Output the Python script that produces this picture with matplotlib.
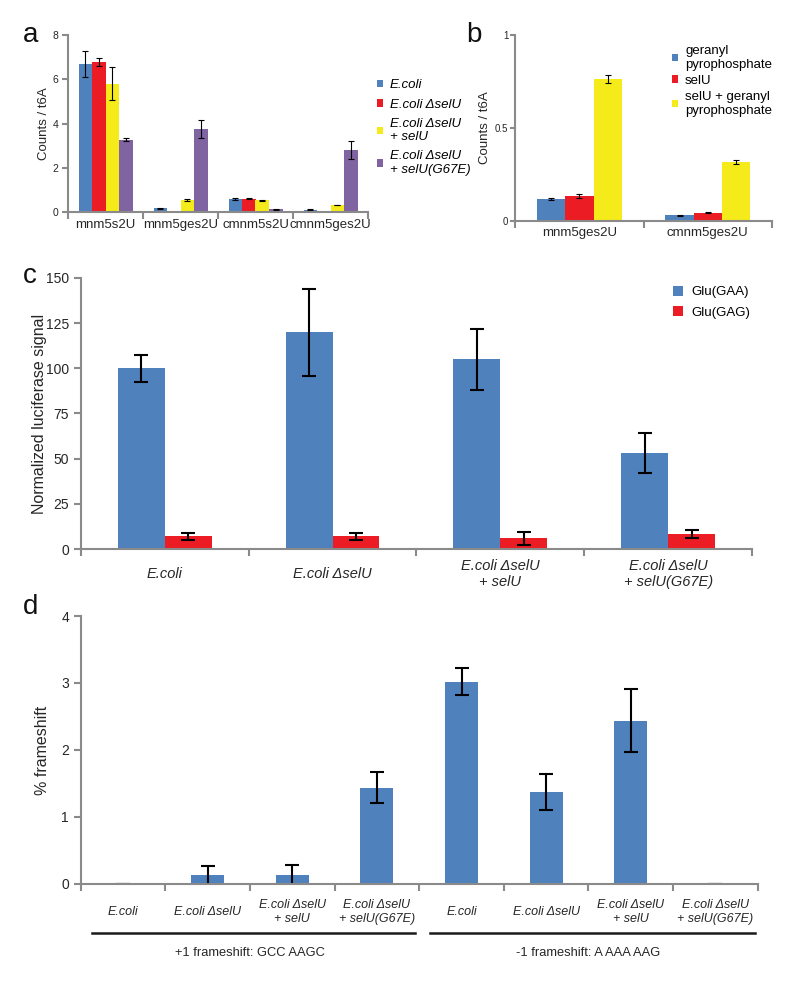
import numpy as np
import matplotlib.pyplot as plt
from matplotlib.ticker import FixedLocator

plt.rcParams['font.family'] = ['Liberation Sans', 'DejaVu Sans']

BLUE = '#4f81bd'
RED = '#ec1c24'
YELLOW = '#f5eb1a'
PURPLE = '#8064a2'
GRAY = '#8a8a8a'
TXT = '#262626'

# panel a : counts / t6A
a_cats = ['mnm5s2U', 'mnm5ges2U', 'cmnm5s2U', 'cmnm5ges2U']
a_labels = ['E.coli', 'E.coli \u0394selU', 'E.coli \u0394selU\n+ selU', 'E.coli \u0394selU\n+ selU(G67E)']
a_ecoli = [6.7, 0.17, 0.6, 0.1]
a_ecoli_err = [0.6, 0.02, 0.05, 0.02]
a_delta = [6.8, 0.0, 0.6, 0.0]
a_delta_err = [0.18, 0.0, 0.03, 0.0]
a_rescue = [5.8, 0.55, 0.53, 0.32]
a_rescue_err = [0.75, 0.05, 0.03, 0.02]
a_g67e = [3.28, 3.75, 0.13, 2.8]
a_g67e_err = [0.08, 0.42, 0.02, 0.4]

# panel b
b_cats = ['mnm5ges2U', 'cmnm5ges2U']
b_labels = ['geranyl\npyrophosphate', 'selU', 'selU + geranyl\npyrophosphate']
b_gpp = [0.118, 0.03]
b_gpp_err = [0.006, 0.003]
b_selu = [0.134, 0.045]
b_selu_err = [0.01, 0.004]
b_both = [0.763, 0.318]
b_both_err = [0.022, 0.012]

# panel c : luciferase
c_cats = ['E.coli', 'E.coli \u0394selU', 'E.coli \u0394selU\n+ selU', 'E.coli \u0394selU\n+ selU(G67E)']
c_gaa = [100, 120, 105, 53]
c_gaa_err = [7.5, 24, 17, 11]
c_gag = [7, 7, 6, 8.3]
c_gag_err = [2, 2, 3.6, 2]

# panel d : frameshift
d_cats = c_cats * 2
d_vals = [0, 0.13, 0.13, 1.44, 3.02, 1.37, 2.44, 0]
d_err = [0, 0.14, 0.16, 0.23, 0.2, 0.27, 0.47, 0]
d_groups = ['+1 frameshift: GCC AAGC', '-1 frameshift: A AAA AAG']


def style(ax, ncat, ylab, ticksize, catsize, catpad, ylabsize, italic=False, tl=5, tp=3.5):
    for s in ['top', 'right']:
        ax.spines[s].set_visible(False)
    for s in ['left', 'bottom']:
        ax.spines[s].set_color(GRAY)
        ax.spines[s].set_linewidth(1.5)
    ax.set_xlim(-0.5, ncat - 0.5)
    ax.xaxis.set_minor_locator(FixedLocator(np.arange(ncat + 1) - 0.5))
    ax.tick_params(axis='x', which='major', length=0, pad=catpad, labelsize=catsize, labelcolor=TXT)
    ax.tick_params(axis='x', which='minor', length=5, width=1.5, color=GRAY, direction='out')
    ax.tick_params(axis='y', length=tl, pad=tp, width=1.5, color=GRAY, labelsize=ticksize, labelcolor=TXT)
    for t in ax.get_xticklabels():
        t.set_va('center')
        if italic:
            t.set_style('italic')
    ax.set_ylabel(ylab, fontsize=ylabsize, color=TXT)


fig = plt.figure(figsize=(8, 9.91), dpi=100)

# ---- a
ax = fig.add_axes([0.085, 0.786, 0.375, 0.1786])
x = np.arange(len(a_cats))
w = 0.18
ek = dict(ecolor='black', capsize=2, elinewidth=0.8, capthick=0.8)
for i, (v, e, c, lab) in enumerate(zip([a_ecoli, a_delta, a_rescue, a_g67e],
                                       [a_ecoli_err, a_delta_err, a_rescue_err, a_g67e_err],
                                       [BLUE, RED, YELLOW, PURPLE], a_labels)):
    ax.bar(x + (i - 1.5) * w, v, w, yerr=e, color=c, label=lab, error_kw=ek)
ax.set_ylim(0, 8)
ax.set_yticks([0, 2, 4, 6, 8])
ax.set_xticks(x)
ax.set_xticklabels(a_cats)
style(ax, 4, 'Counts / t6A', 7.5, 9.5, 9, 9.5, tl=4, tp=3)
ax.yaxis.set_label_coords(-0.06, 0.5)
leg = fig.legend(*ax.get_legend_handles_labels(), loc='upper left', bbox_to_anchor=(0.456, 0.932),
                 frameon=False, handlelength=0.5, handleheight=0.5, handletextpad=0.5,
                 labelspacing=0.55, prop=dict(size=9.5, style='italic'))
for t in leg.get_texts():
    t.set_linespacing(1.15)

# ---- b
ax = fig.add_axes([0.644, 0.777, 0.321, 0.1877])
x = np.arange(len(b_cats))
w = 0.22
for i, (v, e, c, lab) in enumerate(zip([b_gpp, b_selu, b_both], [b_gpp_err, b_selu_err, b_both_err],
                                       [BLUE, RED, YELLOW], b_labels)):
    ax.bar(x + (i - 1) * w, v, w, yerr=e, color=c, label=lab, error_kw=ek)
ax.set_ylim(0, 1)
ax.set_yticks([0, 0.5, 1])
ax.set_yticklabels(['0', '0.5', '1'])
ax.set_xticks(x)
ax.set_xticklabels(b_cats)
style(ax, 2, 'Counts / t6A', 7, 9.5, 9, 9.5, tl=3.5, tp=1.5)
ax.yaxis.set_label_coords(-0.095, 0.5)
leg = fig.legend(*ax.get_legend_handles_labels(), loc='upper left', bbox_to_anchor=(0.825, 0.967),
                 frameon=False, handlelength=0.5, handleheight=0.5, handletextpad=0.5,
                 labelspacing=0.3, prop=dict(size=9.5))
for t in leg.get_texts():
    t.set_linespacing(1.25)

# ---- c
ax = fig.add_axes([0.101, 0.446, 0.839, 0.2735])
x = np.arange(len(c_cats))
w = 0.28
ek2 = dict(ecolor='black', capsize=5, elinewidth=1.5, capthick=1.5)
ax.bar(x - w / 2, c_gaa, w, yerr=c_gaa_err, color=BLUE, label='Glu(GAA)', error_kw=ek2)
ax.bar(x + w / 2, c_gag, w, yerr=c_gag_err, color=RED, label='Glu(GAG)', error_kw=ek2)
ax.set_ylim(0, 150)
ax.set_yticks(np.arange(0, 151, 25))
ax.set_xticks(x)
ax.set_xticklabels(c_cats)
style(ax, 4, 'Normalized luciferase signal', 10, 10.5, 18, 11.5, italic=True)
ax.yaxis.set_label_coords(-0.051, 0.5)
ax.legend(loc='upper left', bbox_to_anchor=(0.864, 1.015), frameon=False, handlelength=0.8,
          handleheight=0.8, handletextpad=0.6, labelspacing=0.6, fontsize=9.5)

# ---- d
ax = fig.add_axes([0.101, 0.108, 0.846, 0.2704])
x = np.arange(len(d_cats))
ax.bar(x, d_vals, 0.39, yerr=d_err, color=BLUE, error_kw=ek2)
ax.set_ylim(0, 4)
ax.set_yticks([0, 1, 2, 3, 4])
ax.set_xticks(x)
ax.set_xticklabels(d_cats)
style(ax, 8, '% frameshift', 10, 9, 20, 11.5, italic=True)
ax.yaxis.set_label_coords(-0.046, 0.5)
tr = ax.get_xaxis_transform()
for (x0, x1), g, xc in zip([(-0.37, 3.45), (3.63, 7.47)], d_groups, [1.5, 5.5]):
    ax.plot([x0, x1], [-0.183, -0.183], color='#1a1a1a', lw=1.8, transform=tr, clip_on=False)
    ax.text(xc, -0.257, g, transform=tr, ha='center', va='center', fontsize=9.3, color=TXT)

# panel letters
for s, px, py in [('a', 23, 42), ('b', 466, 42), ('c', 23, 283), ('d', 23, 614)]:
    fig.text(px / 800, 1 - py / 991, s, fontsize=20, color='#111', va='baseline', ha='left')

fig.savefig('out.png', dpi=100)
